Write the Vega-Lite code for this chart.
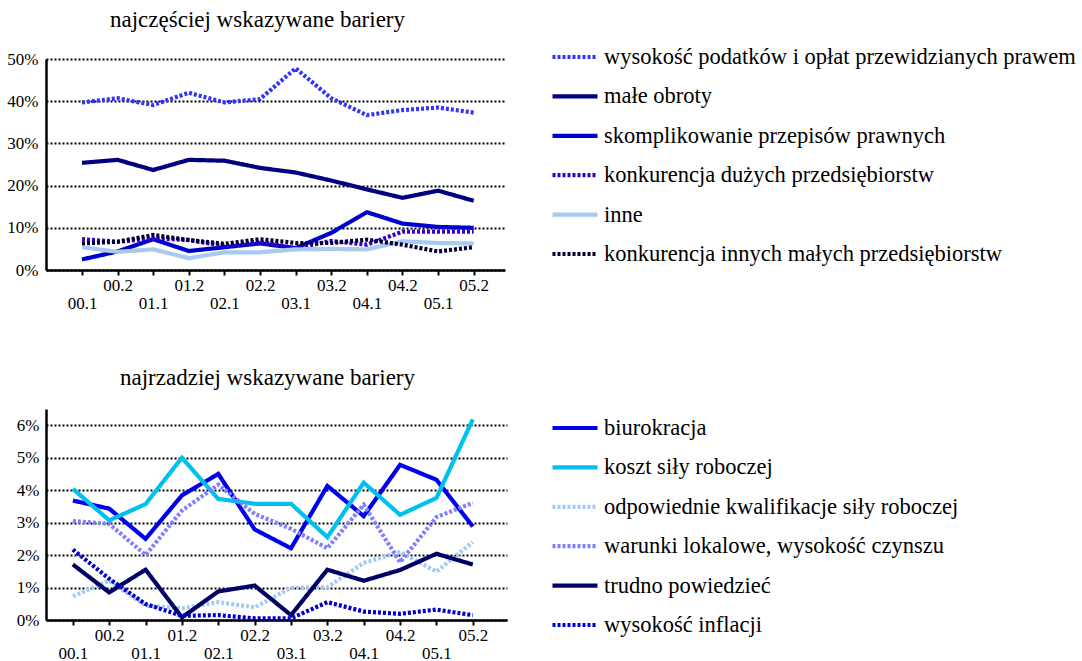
{
  "$schema": "https://vega.github.io/schema/vega-lite/v6.json",
  "background": "white",
  "padding": {"left": 5, "top": 9, "right": 5, "bottom": 0},
  "spacing": 56,
  "columns": 1,
  "resolve": {"scale": {"color": "independent", "strokeDash": "independent"}, "legend": {"color": "independent", "strokeDash": "independent"}},
  "config": {
    "font": "Liberation Serif",
    "view": {"stroke": null},
    "axis": {"labelFont": "Liberation Serif", "labelFontSize": 17, "labelColor": "black", "domainColor": "black", "domainWidth": 2.5, "tickColor": "black", "tickWidth": 2, "title": null},
    "legend": {"orient": "none", "title": null, "labelFont": "Liberation Serif", "labelFontSize": 22.5, "labelColor": "black", "symbolType": "stroke", "symbolSize": 2025, "symbolStrokeWidth": 4, "rowPadding": 2.4, "labelLimit": 700, "labelOffset": 4},
    "title": {"font": "Liberation Serif", "fontSize": 23, "fontWeight": "normal", "color": "black", "anchor": "start", "frame": "bounds", "dx": 105},
    "line": {"strokeWidth": 4.2, "strokeCap": "butt"}
  },
  "datasets": {
    "top": [
      {"okres": "00.1", "seria": "wysokość podatków i opłat przewidzianych prawem", "wartosc": 39.7},
      {"okres": "00.2", "seria": "wysokość podatków i opłat przewidzianych prawem", "wartosc": 40.7},
      {"okres": "01.1", "seria": "wysokość podatków i opłat przewidzianych prawem", "wartosc": 39.1},
      {"okres": "01.2", "seria": "wysokość podatków i opłat przewidzianych prawem", "wartosc": 42.0},
      {"okres": "02.1", "seria": "wysokość podatków i opłat przewidzianych prawem", "wartosc": 39.7},
      {"okres": "02.2", "seria": "wysokość podatków i opłat przewidzianych prawem", "wartosc": 40.5},
      {"okres": "03.1", "seria": "wysokość podatków i opłat przewidzianych prawem", "wartosc": 47.8},
      {"okres": "03.2", "seria": "wysokość podatków i opłat przewidzianych prawem", "wartosc": 40.7},
      {"okres": "04.1", "seria": "wysokość podatków i opłat przewidzianych prawem", "wartosc": 36.7},
      {"okres": "04.2", "seria": "wysokość podatków i opłat przewidzianych prawem", "wartosc": 37.9},
      {"okres": "05.1", "seria": "wysokość podatków i opłat przewidzianych prawem", "wartosc": 38.5},
      {"okres": "05.2", "seria": "wysokość podatków i opłat przewidzianych prawem", "wartosc": 37.3},
      {"okres": "00.1", "seria": "małe obroty", "wartosc": 25.4},
      {"okres": "00.2", "seria": "małe obroty", "wartosc": 26.1},
      {"okres": "01.1", "seria": "małe obroty", "wartosc": 23.7},
      {"okres": "01.2", "seria": "małe obroty", "wartosc": 26.1},
      {"okres": "02.1", "seria": "małe obroty", "wartosc": 25.9},
      {"okres": "02.2", "seria": "małe obroty", "wartosc": 24.2},
      {"okres": "03.1", "seria": "małe obroty", "wartosc": 23.1},
      {"okres": "03.2", "seria": "małe obroty", "wartosc": 21.2},
      {"okres": "04.1", "seria": "małe obroty", "wartosc": 19.1},
      {"okres": "04.2", "seria": "małe obroty", "wartosc": 17.1},
      {"okres": "05.1", "seria": "małe obroty", "wartosc": 18.8},
      {"okres": "05.2", "seria": "małe obroty", "wartosc": 16.4},
      {"okres": "00.1", "seria": "skomplikowanie przepisów prawnych", "wartosc": 2.5},
      {"okres": "00.2", "seria": "skomplikowanie przepisów prawnych", "wartosc": 4.4},
      {"okres": "01.1", "seria": "skomplikowanie przepisów prawnych", "wartosc": 7.3},
      {"okres": "01.2", "seria": "skomplikowanie przepisów prawnych", "wartosc": 4.5},
      {"okres": "02.1", "seria": "skomplikowanie przepisów prawnych", "wartosc": 5.4},
      {"okres": "02.2", "seria": "skomplikowanie przepisów prawnych", "wartosc": 6.3},
      {"okres": "03.1", "seria": "skomplikowanie przepisów prawnych", "wartosc": 5.2},
      {"okres": "03.2", "seria": "skomplikowanie przepisów prawnych", "wartosc": 8.8},
      {"okres": "04.1", "seria": "skomplikowanie przepisów prawnych", "wartosc": 13.7},
      {"okres": "04.2", "seria": "skomplikowanie przepisów prawnych", "wartosc": 11.0},
      {"okres": "05.1", "seria": "skomplikowanie przepisów prawnych", "wartosc": 10.2},
      {"okres": "05.2", "seria": "skomplikowanie przepisów prawnych", "wartosc": 10.0},
      {"okres": "00.1", "seria": "konkurencja dużych przedsiębiorstw", "wartosc": 7.3},
      {"okres": "00.2", "seria": "konkurencja dużych przedsiębiorstw", "wartosc": 6.7},
      {"okres": "01.1", "seria": "konkurencja dużych przedsiębiorstw", "wartosc": 7.5},
      {"okres": "01.2", "seria": "konkurencja dużych przedsiębiorstw", "wartosc": 7.1},
      {"okres": "02.1", "seria": "konkurencja dużych przedsiębiorstw", "wartosc": 5.7},
      {"okres": "02.2", "seria": "konkurencja dużych przedsiębiorstw", "wartosc": 6.7},
      {"okres": "03.1", "seria": "konkurencja dużych przedsiębiorstw", "wartosc": 5.1},
      {"okres": "03.2", "seria": "konkurencja dużych przedsiębiorstw", "wartosc": 6.9},
      {"okres": "04.1", "seria": "konkurencja dużych przedsiębiorstw", "wartosc": 6.0},
      {"okres": "04.2", "seria": "konkurencja dużych przedsiębiorstw", "wartosc": 9.1},
      {"okres": "05.1", "seria": "konkurencja dużych przedsiębiorstw", "wartosc": 9.1},
      {"okres": "05.2", "seria": "konkurencja dużych przedsiębiorstw", "wartosc": 9.1},
      {"okres": "00.1", "seria": "inne", "wartosc": 5.4},
      {"okres": "00.2", "seria": "inne", "wartosc": 4.3},
      {"okres": "01.1", "seria": "inne", "wartosc": 4.9},
      {"okres": "01.2", "seria": "inne", "wartosc": 2.8},
      {"okres": "02.1", "seria": "inne", "wartosc": 4.2},
      {"okres": "02.2", "seria": "inne", "wartosc": 4.2},
      {"okres": "03.1", "seria": "inne", "wartosc": 4.9},
      {"okres": "03.2", "seria": "inne", "wartosc": 5.0},
      {"okres": "04.1", "seria": "inne", "wartosc": 4.9},
      {"okres": "04.2", "seria": "inne", "wartosc": 6.8},
      {"okres": "05.1", "seria": "inne", "wartosc": 6.4},
      {"okres": "05.2", "seria": "inne", "wartosc": 6.3},
      {"okres": "00.1", "seria": "konkurencja innych małych przedsiębiorstw", "wartosc": 6.3},
      {"okres": "00.2", "seria": "konkurencja innych małych przedsiębiorstw", "wartosc": 6.7},
      {"okres": "01.1", "seria": "konkurencja innych małych przedsiębiorstw", "wartosc": 8.3},
      {"okres": "01.2", "seria": "konkurencja innych małych przedsiębiorstw", "wartosc": 7.1},
      {"okres": "02.1", "seria": "konkurencja innych małych przedsiębiorstw", "wartosc": 6.2},
      {"okres": "02.2", "seria": "konkurencja innych małych przedsiębiorstw", "wartosc": 7.3},
      {"okres": "03.1", "seria": "konkurencja innych małych przedsiębiorstw", "wartosc": 6.4},
      {"okres": "03.2", "seria": "konkurencja innych małych przedsiębiorstw", "wartosc": 6.4},
      {"okres": "04.1", "seria": "konkurencja innych małych przedsiębiorstw", "wartosc": 7.2},
      {"okres": "04.2", "seria": "konkurencja innych małych przedsiębiorstw", "wartosc": 6.0},
      {"okres": "05.1", "seria": "konkurencja innych małych przedsiębiorstw", "wartosc": 4.4},
      {"okres": "05.2", "seria": "konkurencja innych małych przedsiębiorstw", "wartosc": 5.4}
    ],
    "bottom": [
      {"okres": "00.1", "seria": "biurokracja", "wartosc": 3.68},
      {"okres": "00.2", "seria": "biurokracja", "wartosc": 3.43},
      {"okres": "01.1", "seria": "biurokracja", "wartosc": 2.5},
      {"okres": "01.2", "seria": "biurokracja", "wartosc": 3.84},
      {"okres": "02.1", "seria": "biurokracja", "wartosc": 4.5},
      {"okres": "02.2", "seria": "biurokracja", "wartosc": 2.79},
      {"okres": "03.1", "seria": "biurokracja", "wartosc": 2.21},
      {"okres": "03.2", "seria": "biurokracja", "wartosc": 4.13},
      {"okres": "04.1", "seria": "biurokracja", "wartosc": 3.2},
      {"okres": "04.2", "seria": "biurokracja", "wartosc": 4.78},
      {"okres": "05.1", "seria": "biurokracja", "wartosc": 4.32},
      {"okres": "05.2", "seria": "biurokracja", "wartosc": 2.88},
      {"okres": "00.1", "seria": "koszt siły roboczej", "wartosc": 4.04},
      {"okres": "00.2", "seria": "koszt siły roboczej", "wartosc": 3.07},
      {"okres": "01.1", "seria": "koszt siły roboczej", "wartosc": 3.57},
      {"okres": "01.2", "seria": "koszt siły roboczej", "wartosc": 5.0},
      {"okres": "02.1", "seria": "koszt siły roboczej", "wartosc": 3.73},
      {"okres": "02.2", "seria": "koszt siły roboczej", "wartosc": 3.58},
      {"okres": "03.1", "seria": "koszt siły roboczej", "wartosc": 3.58},
      {"okres": "03.2", "seria": "koszt siły roboczej", "wartosc": 2.55},
      {"okres": "04.1", "seria": "koszt siły roboczej", "wartosc": 4.23},
      {"okres": "04.2", "seria": "koszt siły roboczej", "wartosc": 3.24},
      {"okres": "05.1", "seria": "koszt siły roboczej", "wartosc": 3.76},
      {"okres": "05.2", "seria": "koszt siły roboczej", "wartosc": 6.18},
      {"okres": "00.1", "seria": "odpowiednie kwalifikacje siły roboczej", "wartosc": 0.73},
      {"okres": "00.2", "seria": "odpowiednie kwalifikacje siły roboczej", "wartosc": 1.21},
      {"okres": "01.1", "seria": "odpowiednie kwalifikacje siły roboczej", "wartosc": 0.44},
      {"okres": "01.2", "seria": "odpowiednie kwalifikacje siły roboczej", "wartosc": 0.36},
      {"okres": "02.1", "seria": "odpowiednie kwalifikacje siły roboczej", "wartosc": 0.55},
      {"okres": "02.2", "seria": "odpowiednie kwalifikacje siły roboczej", "wartosc": 0.39},
      {"okres": "03.1", "seria": "odpowiednie kwalifikacje siły roboczej", "wartosc": 0.99},
      {"okres": "03.2", "seria": "odpowiednie kwalifikacje siły roboczej", "wartosc": 1.01},
      {"okres": "04.1", "seria": "odpowiednie kwalifikacje siły roboczej", "wartosc": 1.76},
      {"okres": "04.2", "seria": "odpowiednie kwalifikacje siły roboczej", "wartosc": 2.1},
      {"okres": "05.1", "seria": "odpowiednie kwalifikacje siły roboczej", "wartosc": 1.49},
      {"okres": "05.2", "seria": "odpowiednie kwalifikacje siły roboczej", "wartosc": 2.4},
      {"okres": "00.1", "seria": "warunki lokalowe, wysokość czynszu", "wartosc": 3.05},
      {"okres": "00.2", "seria": "warunki lokalowe, wysokość czynszu", "wartosc": 2.96},
      {"okres": "01.1", "seria": "warunki lokalowe, wysokość czynszu", "wartosc": 2.0},
      {"okres": "01.2", "seria": "warunki lokalowe, wysokość czynszu", "wartosc": 3.37},
      {"okres": "02.1", "seria": "warunki lokalowe, wysokość czynszu", "wartosc": 4.17},
      {"okres": "02.2", "seria": "warunki lokalowe, wysokość czynszu", "wartosc": 3.27},
      {"okres": "03.1", "seria": "warunki lokalowe, wysokość czynszu", "wartosc": 2.81},
      {"okres": "03.2", "seria": "warunki lokalowe, wysokość czynszu", "wartosc": 2.21},
      {"okres": "04.1", "seria": "warunki lokalowe, wysokość czynszu", "wartosc": 3.55},
      {"okres": "04.2", "seria": "warunki lokalowe, wysokość czynszu", "wartosc": 1.78},
      {"okres": "05.1", "seria": "warunki lokalowe, wysokość czynszu", "wartosc": 3.17},
      {"okres": "05.2", "seria": "warunki lokalowe, wysokość czynszu", "wartosc": 3.61},
      {"okres": "00.1", "seria": "trudno powiedzieć", "wartosc": 1.71},
      {"okres": "00.2", "seria": "trudno powiedzieć", "wartosc": 0.85},
      {"okres": "01.1", "seria": "trudno powiedzieć", "wartosc": 1.55},
      {"okres": "01.2", "seria": "trudno powiedzieć", "wartosc": 0.08},
      {"okres": "02.1", "seria": "trudno powiedzieć", "wartosc": 0.88},
      {"okres": "02.2", "seria": "trudno powiedzieć", "wartosc": 1.06},
      {"okres": "03.1", "seria": "trudno powiedzieć", "wartosc": 0.15},
      {"okres": "03.2", "seria": "trudno powiedzieć", "wartosc": 1.55},
      {"okres": "04.1", "seria": "trudno powiedzieć", "wartosc": 1.21},
      {"okres": "04.2", "seria": "trudno powiedzieć", "wartosc": 1.54},
      {"okres": "05.1", "seria": "trudno powiedzieć", "wartosc": 2.04},
      {"okres": "05.2", "seria": "trudno powiedzieć", "wartosc": 1.71},
      {"okres": "00.1", "seria": "wysokość inflacji", "wartosc": 2.17},
      {"okres": "00.2", "seria": "wysokość inflacji", "wartosc": 1.27},
      {"okres": "01.1", "seria": "wysokość inflacji", "wartosc": 0.49},
      {"okres": "01.2", "seria": "wysokość inflacji", "wartosc": 0.13},
      {"okres": "02.1", "seria": "wysokość inflacji", "wartosc": 0.15},
      {"okres": "02.2", "seria": "wysokość inflacji", "wartosc": 0.05},
      {"okres": "03.1", "seria": "wysokość inflacji", "wartosc": 0.05},
      {"okres": "03.2", "seria": "wysokość inflacji", "wartosc": 0.55},
      {"okres": "04.1", "seria": "wysokość inflacji", "wartosc": 0.26},
      {"okres": "04.2", "seria": "wysokość inflacji", "wartosc": 0.19},
      {"okres": "05.1", "seria": "wysokość inflacji", "wartosc": 0.32},
      {"okres": "05.2", "seria": "wysokość inflacji", "wartosc": 0.15}
    ]
  },
  "concat": [
    {
      "title": {"text": "najczęściej wskazywane bariery", "offset": 0},
      "width": 459,
      "height": 211,
      "data": {"name": "top"},
      "mark": {"type": "line"},
      "encoding": {
        "x": {"field": "okres", "type": "ordinal", "sort": null, "scale": {"type": "point", "padding": 0.945, "align": 0.535},
          "axis": {"labelAngle": 0, "labelOverlap": false, "grid": false, "tickSize": 5, "labelPadding": 2, "labelLineHeight": 18,
            "labelExpr": "slice(datum.label, -1) == '1' ? [' ', datum.label] : datum.label"}},
        "y": {"field": "wartosc", "type": "quantitative", "scale": {"domain": [0, 50]},
          "axis": {"values": [0, 10, 20, 30, 40, 50], "labelExpr": "datum.value + '%'", "tickSize": 0, "grid": true, "gridColor": "black", "gridDash": [2, 2], "gridWidth": 2, "labelPadding": 8, "minExtent": 41, "maxExtent": 41}},
        "color": {"field": "seria", "type": "nominal",
          "scale": {"domain": ["wysokość podatków i opłat przewidzianych prawem", "małe obroty", "skomplikowanie przepisów prawnych", "konkurencja dużych przedsiębiorstw", "inne", "konkurencja innych małych przedsiębiorstw"],
            "range": ["#3333FF", "#000080", "#0000CC", "#3300CC", "#A6CAF0", "#000033"]},
          "legend": {"legendX": 504, "legendY": -27}},
        "strokeDash": {"field": "seria", "type": "nominal",
          "scale": {"domain": ["wysokość podatków i opłat przewidzianych prawem", "małe obroty", "skomplikowanie przepisów prawnych", "konkurencja dużych przedsiębiorstw", "inne", "konkurencja innych małych przedsiębiorstw"],
            "range": [[3, 2], [1, 0], [1, 0], [3, 2], [1, 0], [3, 2]]},
          "legend": {"legendX": 504, "legendY": -27}}
      }
    },
    {
      "title": {"text": "najrzadziej wskazywane bariery", "offset": 13},
      "width": 461,
      "height": 211,
      "data": {"name": "bottom"},
      "mark": {"type": "line"},
      "encoding": {
        "x": {"field": "okres", "type": "ordinal", "sort": null, "scale": {"type": "point", "padding": 0.84, "align": 0.44},
          "axis": {"labelAngle": 0, "labelOverlap": false, "grid": false, "tickSize": 5, "labelPadding": 2, "labelLineHeight": 18,
            "labelExpr": "slice(datum.label, -1) == '1' ? [' ', datum.label] : datum.label"}},
        "y": {"field": "wartosc", "type": "quantitative", "scale": {"domain": [0, 6.5]},
          "axis": {"values": [0, 1, 2, 3, 4, 5, 6], "labelExpr": "datum.value + '%'", "tickSize": 0, "grid": true, "gridColor": "black", "gridDash": [2, 2], "gridWidth": 2, "labelPadding": 7, "minExtent": 31, "maxExtent": 31}},
        "color": {"field": "seria", "type": "nominal",
          "scale": {"domain": ["biurokracja", "koszt siły roboczej", "odpowiednie kwalifikacje siły roboczej", "warunki lokalowe, wysokość czynszu", "trudno powiedzieć", "wysokość inflacji"],
            "range": ["#0000EE", "#00C0F0", "#A6CAF0", "#8080FF", "#000066", "#0000CC"]},
          "legend": {"legendX": 504, "legendY": -6}},
        "strokeDash": {"field": "seria", "type": "nominal",
          "scale": {"domain": ["biurokracja", "koszt siły roboczej", "odpowiednie kwalifikacje siły roboczej", "warunki lokalowe, wysokość czynszu", "trudno powiedzieć", "wysokość inflacji"],
            "range": [[1, 0], [1, 0], [3, 2], [3, 2], [1, 0], [3, 2]]},
          "legend": {"legendX": 504, "legendY": -6}}
      }
    }
  ]
}
